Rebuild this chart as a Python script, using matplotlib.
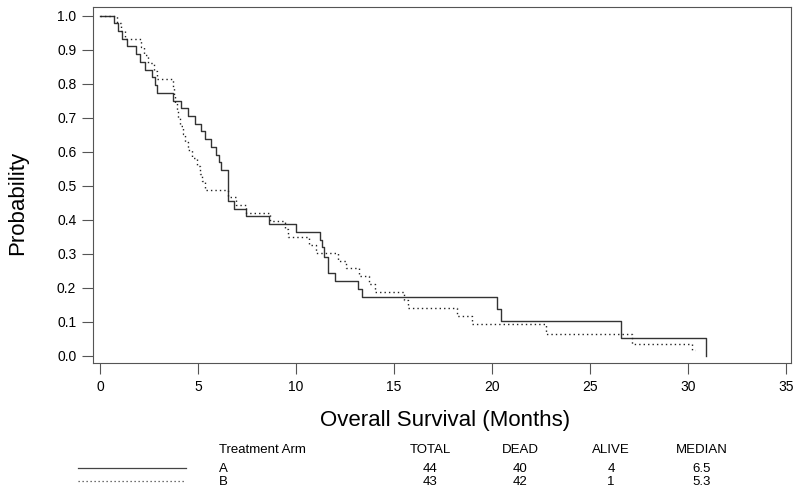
import matplotlib
matplotlib.use("Agg")
import matplotlib.pyplot as plt
from matplotlib.lines import Line2D

plt.rcParams['font.family'] = ['Liberation Sans', 'DejaVu Sans']

# survival steps: (time in months, probability after the drop)
t_a = [0, 0.71, 0.94, 1.14, 1.36, 1.82, 2.04, 2.30, 2.67, 2.79, 2.93, 3.74, 4.15,
       4.49, 4.83, 5.14, 5.34, 5.65, 5.90, 6.05, 6.19, 6.53, 6.84, 7.43, 8.62,
       9.98, 11.22, 11.35, 11.45, 11.62, 11.98, 13.16, 13.39, 20.27, 20.44,
       26.57, 30.9]
s_a = [1.0, .977, .955, .932, .909, .886, .864, .841, .818, .795, .773, .750, .727,
       .705, .682, .659, .636, .614, .591, .568, .545, .455, .432, .409, .386,
       .364, .341, .318, .290, .244, .219, .195, .171, .137, .102,
       .051, 0.0]

t_b = [0, 0.85, 1.05, 1.30, 2.08, 2.25, 2.45, 2.75, 2.90, 3.72, 3.76, 3.82, 3.92,
       3.98, 4.08, 4.22, 4.35, 4.50, 4.70, 4.95, 5.08, 5.20, 5.34, 6.53, 6.95,
       7.45, 8.65, 9.45, 9.58, 10.65, 11.0, 12.15, 12.55, 13.2, 13.75, 14.05,
       15.52, 15.7, 18.23, 19.0, 22.74, 27.16, 30.22, 30.35]
s_b = [1.0, .977, .953, .930, .907, .884, .860, .837, .814, .791, .767, .744, .721,
       .698, .674, .651, .628, .605, .581, .558, .535, .512, .488, .465, .442,
       .419, .395, .372, .349, .326, .302, .279, .256, .233, .209, .186,
       .163, .140, .116, .093, .063, .033, .016, .016]

arms = ["A", "B"]
total = [44, 43]
dead = [40, 42]
alive = [4, 1]
median = ["6.5", "5.3"]

fig = plt.figure(figsize=(8, 4.94), dpi=100)
ax = fig.add_axes([93/800, 1 - 363/494, (791-93)/800, 356/494])

ax.step(t_a, s_a, where='post', color='#333333', lw=1.0)
ax.step(t_b, s_b, where='post', color='#222222', lw=1.0, linestyle=(0, (1, 2.2)))

ax.set_xlim(-0.357, 35.26)
ax.set_ylim(-0.022, 1.025)
ax.set_xticks(range(0, 36, 5))
ax.set_yticks([i / 10 for i in range(11)])
ax.set_yticklabels(["%.1f" % (i / 10) for i in range(11)])
ax.tick_params(direction='out', length=8, width=0.8, color='#555555',
               labelsize=10, pad=4)
for sp in ax.spines.values():
    sp.set_color('#555555')
    sp.set_linewidth(0.8)

fig.text(18/800, 1 - 203/494, "Probability", rotation=90, fontsize=16,
         ha='center', va='center')
fig.text(445/800, 1 - 420/494, "Overall Survival (Months)", fontsize=16,
         ha='center', va='center')

# table under the plot
hdr_y = 1 - 450/494
row_y = [1 - 469/494, 1 - 482/494]
cols = [430, 520, 611, 702]
fig.text(219/800, hdr_y, "Treatment Arm", fontsize=9.5, ha='left', va='center')
for x, h in zip(cols, ["TOTAL", "DEAD", "ALIVE", "MEDIAN"]):
    fig.text(x/800, hdr_y, h, fontsize=9.5, ha='center', va='center')
styles = ['-', (0, (1, 2.2))]
for i in range(2):
    fig.add_artist(Line2D([78/800, 186/800], [row_y[i] + 0.002, row_y[i] + 0.002],
                          transform=fig.transFigure, color='#444444', lw=0.9,
                          linestyle=styles[i]))
    fig.text(219/800, row_y[i], arms[i], fontsize=9.5, ha='left', va='center')
    vals = [total[i], dead[i], alive[i], median[i]]
    for x, v in zip(cols, vals):
        fig.text(x/800, row_y[i], str(v), fontsize=9.5, ha='center', va='center')

fig.savefig("out.png", dpi=100)
